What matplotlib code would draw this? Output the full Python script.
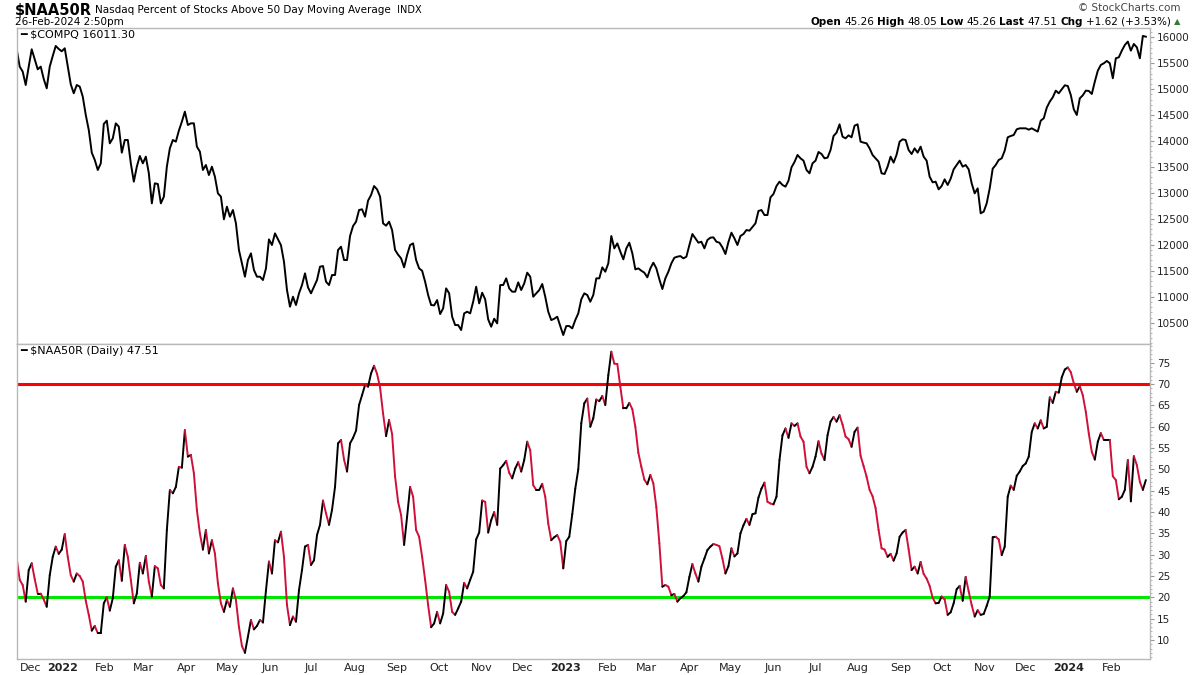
import numpy as np
import pandas as pd
import matplotlib
matplotlib.use('Agg')
import matplotlib.pyplot as plt
import matplotlib.dates as mdates
from matplotlib.collections import LineCollection
from matplotlib.ticker import MultipleLocator

# $COMPQ close (evenly spaced samples, 29-Nov-2021 .. 26-Feb-2024)
compq = [15769, 15435, 15338, 15081, 15435, 15769, 15576, 15383, 15435, 15197,
         15017, 15435, 15640, 15833, 15775, 15730, 15788, 15435, 15094, 14921,
         15081, 15049, 14856, 14503, 14214, 13777, 13636, 13443, 13571, 14330,
         14394, 13957, 14053, 14342, 14278, 13777, 14021, 14021, 13571, 13218,
         13507, 13713, 13571, 13700, 13379, 12800, 13186, 13173, 12800, 12929,
         13507, 13861, 14021, 13989, 14201, 14374, 14567, 14310, 14342, 14342,
         13893, 13796, 13443, 13539, 13346, 13507, 13314, 12993, 12929, 12492,
         12736, 12543, 12672, 12415, 11901, 11644, 11387, 11708, 11837, 11516,
         11387, 11387, 11323, 11547, 12106, 11997, 12222, 12106, 11994, 11676,
         11130, 10809, 11001, 10841, 11066, 11226, 11451, 11181, 11066, 11194,
         11323, 11580, 11592, 11290, 11226, 11419, 11419, 11901, 11965, 11708,
         11708, 12171, 12363, 12447, 12672, 12685, 12543, 12852, 12961, 13134,
         13070, 12929, 12415, 12370, 12447, 12286, 11901, 11811, 11740, 11567,
         11804, 11997, 12029, 11708, 11547, 11502, 11290, 11034, 10841, 10834,
         10937, 10667, 10777, 11162, 11066, 10616, 10455, 10455, 10359, 10680,
         10712, 10680, 10905, 11194, 10873, 11078, 10950, 10564, 10423, 10577,
         10487, 11226, 11226, 11355, 11162, 11098, 11098, 11278, 11130, 11258,
         11464, 11387, 11001, 11066, 11130, 11246, 11001, 10712, 10551, 10577,
         10616, 10436, 10263, 10436, 10436, 10391, 10551, 10680, 10950, 11066,
         11034, 10905, 11034, 11355, 11355, 11567, 11483, 11644, 12171, 11933,
         12029, 11869, 11721, 11933, 12042, 11837, 11528, 11547, 11502, 11464,
         11374, 11547, 11657, 11547, 11336, 11149, 11355, 11483, 11644, 11753,
         11772, 11785, 11740, 11772, 11997, 12209, 12126, 12042, 12061, 11933,
         12094, 12139, 12145, 12061, 12042, 11952, 11824, 12055, 12235, 12126,
         11997, 12171, 12209, 12286, 12274, 12344, 12415, 12653, 12672, 12575,
         12575, 12916, 12980, 13134, 13218, 13154, 13122, 13237, 13494, 13597,
         13732, 13668, 13623, 13443, 13379, 13571, 13623, 13790, 13751, 13668,
         13681, 13828, 14098, 14162, 14323, 14085, 14053, 14111, 14073, 14297,
         14323, 13989, 13970, 13957, 13860, 13732, 13668, 13603, 13379, 13366,
         13507, 13700, 13584, 13738, 13989, 14034, 14021, 13828, 13751, 13860,
         13777, 13893, 13700, 13623, 13314, 13205, 13218, 13070, 13134, 13263,
         13154, 13276, 13456, 13539, 13623, 13507, 13539, 13456, 13186, 12993,
         13089, 12608, 12640, 12800, 13089, 13469, 13539, 13636, 13668, 13816,
         14073, 14098, 14118, 14227, 14246, 14246, 14246, 14220, 14246, 14214,
         14182, 14394, 14439, 14644, 14760, 14843, 14972, 14921, 14998, 15075,
         15062, 14888, 14612, 14503, 14824, 14882, 14972, 14966, 14908, 15145,
         15357, 15467, 15499, 15544, 15499, 15210, 15595, 15615, 15743, 15852,
         15917, 15743, 15871, 15807, 15595, 16026, 16011.30]

# $NAA50R percent of Nasdaq stocks above 50-day MA, same sample dates
naa50r = [29.1, 24.1, 22.9, 19.0, 26.4, 28.0, 24.3, 20.9, 20.9, 19.5,
          17.8, 25.2, 29.5, 31.9, 30.2, 31.2, 34.8, 29.5, 25.2, 23.7,
          25.6, 25.0, 23.7, 19.2, 15.9, 12.2, 13.3, 11.6, 11.6, 18.6,
          20.0, 16.9, 19.8, 27.2, 28.7, 23.9, 32.3, 29.5, 24.1, 18.6,
          20.9, 28.1, 25.6, 29.7, 23.7, 20.2, 27.3, 26.8, 22.9, 22.1,
          35.8, 45.2, 44.4, 45.9, 50.6, 50.4, 59.2, 53.0, 53.4, 49.1,
          40.5, 35.0, 31.2, 35.8, 30.3, 33.4, 30.3, 23.3, 18.6, 16.6,
          19.4, 17.8, 22.1, 19.4, 13.1, 8.6, 7.0, 10.8, 14.7, 12.5,
          13.3, 14.7, 14.1, 21.6, 28.4, 25.6, 33.4, 32.9, 35.4, 29.5,
          18.2, 13.5, 15.5, 14.3, 21.7, 26.4, 31.9, 32.3, 27.6, 28.7,
          34.6, 37.0, 42.7, 39.7, 37.0, 40.5, 45.9, 56.1, 56.9, 52.3,
          49.5, 56.1, 57.4, 59.1, 65.1, 67.4, 69.8, 69.4, 72.5, 74.3,
          72.4, 69.2, 63.1, 57.8, 61.6, 58.3, 48.3, 42.4, 39.3, 32.3,
          38.9, 45.9, 43.6, 35.8, 34.2, 29.5, 24.1, 18.2, 13.0, 13.9,
          16.6, 13.9, 16.2, 22.9, 21.3, 16.6, 15.9, 17.4, 19.0, 23.4,
          22.1, 24.1, 26.0, 33.6, 35.2, 42.7, 42.4, 35.2, 38.1, 40.0,
          37.0, 50.2, 51.0, 52.0, 49.2, 47.9, 50.2, 51.7, 49.5, 52.2,
          56.5, 54.5, 46.3, 45.2, 45.2, 46.6, 43.6, 37.3, 33.4, 34.1,
          34.6, 33.0, 26.8, 33.2, 34.2, 39.5, 45.5, 50.0, 60.8, 65.5,
          66.6, 60.0, 62.0, 66.4, 66.0, 67.2, 65.1, 72.1, 77.6, 74.8,
          74.7, 69.4, 64.3, 64.3, 65.6, 64.1, 60.0, 53.9, 50.6, 47.6,
          46.5, 48.7, 46.7, 41.1, 32.7, 22.5, 22.9, 22.5, 20.5, 20.8,
          19.0, 19.8, 20.3, 21.2, 24.8, 27.8, 25.6, 23.7, 27.2, 29.1,
          31.1, 31.9, 32.5, 32.3, 32.0, 29.1, 25.6, 27.3, 31.5, 29.6,
          30.3, 35.0, 36.9, 38.4, 37.0, 39.5, 39.7, 43.4, 45.5, 46.9,
          42.4, 42.0, 41.8, 43.6, 52.2, 58.0, 59.6, 57.4, 60.8, 60.2,
          60.8, 57.7, 56.5, 50.6, 49.1, 50.6, 53.0, 56.6, 53.7, 52.2,
          58.0, 61.2, 62.3, 61.2, 62.7, 60.5, 57.7, 57.1, 55.3, 58.8,
          59.8, 53.2, 50.8, 48.3, 45.2, 43.7, 40.9, 35.8, 31.5, 31.2,
          29.5, 30.2, 28.6, 30.3, 34.2, 35.2, 35.8, 31.3, 26.4, 27.2,
          25.6, 28.3, 25.5, 24.4, 22.7, 19.9, 18.6, 18.7, 20.2, 19.5,
          15.9, 16.5, 18.6, 21.9, 22.7, 19.2, 24.8, 21.4, 18.2, 15.5,
          17.0, 15.9, 16.1, 18.0, 20.2, 34.1, 34.2, 33.6, 29.9, 31.9,
          43.6, 46.2, 45.2, 48.5, 49.5, 50.8, 51.4, 53.0, 58.8, 60.8,
          59.6, 61.5, 59.6, 60.0, 66.9, 65.6, 68.2, 68.0, 71.6, 73.4,
          73.9, 72.8, 70.2, 68.2, 69.5, 67.4, 63.5, 58.4, 54.1, 52.3,
          56.5, 58.5, 56.9, 56.9, 56.9, 48.4, 47.5, 43.0, 43.6, 45.2,
          52.2, 42.5, 53.1, 51.0, 47.1, 45.2, 47.51]

dates = pd.date_range('2021-11-29', '2024-02-26', periods=len(compq))
month_starts = pd.date_range('2021-12-01', '2024-02-01', freq='MS')
upper_level = 70
lower_level = 20

W, H = 1200, 675
fig = plt.figure(figsize=(12, 6.75), dpi=100)
ax1 = fig.add_axes([16.7 / W, 1 - 344 / H, (1150 - 16.7) / W, 316 / H])
ax2 = fig.add_axes([16.7 / W, 1 - 659 / H, (1150 - 16.7) / W, 315 / H], sharex=ax1)

# top panel: price line
ax1.plot(dates, compq, color='black', lw=1.4, solid_joinstyle='round')
ax1.set_ylim(10090, 16179)
ax1.set_yticks(np.arange(10500, 16001, 500))
ax1.yaxis.set_minor_locator(MultipleLocator(100))

# bottom panel: black when rising, crimson when falling
x = mdates.date2num(dates)
y = np.array(naa50r)
segs = np.stack([np.column_stack([x[:-1], y[:-1]]), np.column_stack([x[1:], y[1:]])], axis=1)
cols = ['black' if y[i + 1] >= y[i] else '#d0103a' for i in range(len(y) - 1)]
ax2.add_collection(LineCollection(segs, colors=cols, linewidths=1.4, capstyle='round', joinstyle='round'))
ax2.axhline(upper_level, color='#ff0000', lw=2.2, zorder=0)
ax2.axhline(lower_level, color='#00e600', lw=2.2, zorder=0)
ax2.set_ylim(5.55, 79.4)
ax2.set_yticks(np.arange(10, 76, 5))
ax2.yaxis.set_minor_locator(MultipleLocator(1))

ax1.set_xlim(pd.Timestamp('2021-11-29'), pd.Timestamp('2024-02-29'))

for ax in (ax1, ax2):
    ax.yaxis.tick_right()
    ax.tick_params(axis='y', which='major', length=3, width=0.8, color='#999999',
                   labelsize=7.5, pad=2, labelcolor='#222222')
    ax.tick_params(axis='y', which='minor', length=1.5, width=0.6, color='#aaaaaa')
    for sp in ax.spines.values():
        sp.set_color('#b8b8b8')
        sp.set_linewidth(1)

ax1.tick_params(axis='x', which='both', bottom=False, labelbottom=False)
ax2.set_xticks(month_starts)
ax2.set_xticklabels([str(d.year) if d.month == 1 else d.strftime('%b') for d in month_starts])
ax2.tick_params(axis='x', length=0, pad=3, labelsize=8, labelcolor='#222222')
xlabels = ax2.get_xticklabels()
for lab, d in zip(xlabels, month_starts):
    if d.month == 1:
        lab.set_fontweight('bold')
xlabels[0].set_horizontalalignment('left')

# panel legends
ax1.text(0.003, 0.995, '━ \\$COMPQ 16011.30', transform=ax1.transAxes, va='top', ha='left', fontsize=8)
ax2.text(0.003, 0.995, '━ \\$NAA50R (Daily) 47.51', transform=ax2.transAxes, va='top', ha='left', fontsize=8)

# header rows
renderer = fig.canvas.get_renderer()


def put_row(pieces, x, y, align='left'):
    texts = []
    for s, bold, col, fs in pieces:
        t = fig.text(0, 1 - y / H, s, fontsize=fs, fontweight='bold' if bold else 'normal',
                     color=col, va='center', ha='left')
        texts.append(t)
    widths = [t.get_window_extent(renderer).width for t in texts]
    gap = 3
    total = sum(widths) + gap * (len(widths) - 1)
    pos = x if align == 'left' else x - total
    for t, w in zip(texts, widths):
        t.set_x(pos / W)
        pos += w + gap


put_row([('\\$NAA50R', True, 'black', 10.5),
         ('Nasdaq Percent of Stocks Above 50 Day Moving Average', False, 'black', 7.5),
         (' INDX', False, 'black', 7)], 15, 10)
put_row([('26-Feb-2024 2:50pm', False, 'black', 7.5)], 15, 22)
put_row([('© StockCharts.com', False, '#444444', 7.5)], 1180, 8, align='right')
put_row([('Open', True, 'black', 7.5), ('45.26', False, 'black', 7.5),
         ('High', True, 'black', 7.5), ('48.05', False, 'black', 7.5),
         ('Low', True, 'black', 7.5), ('45.26', False, 'black', 7.5),
         ('Last', True, 'black', 7.5), ('47.51', False, 'black', 7.5),
         ('Chg', True, 'black', 7.5), ('+1.62 (+3.53%)', False, 'black', 7.5),
         ('▲', False, '#2e7d32', 6)], 1180, 22, align='right')

fig.savefig('out.png', dpi=100, facecolor='white')
